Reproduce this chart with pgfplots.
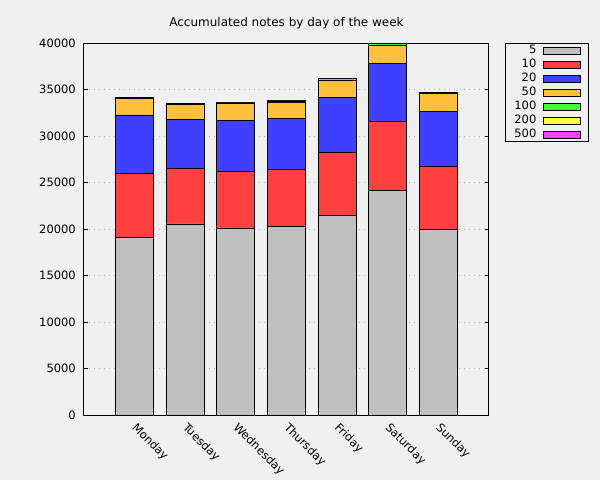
\documentclass[border=0pt]{standalone}
\usepackage{pgfplots}
\pgfplotsset{compat=1.18}
\usepackage{fontspec}
\setmainfont{DejaVu Sans}
\definecolor{bg}{HTML}{F0F0F0}
\definecolor{c5}{HTML}{C0C0C0}
\definecolor{c10}{HTML}{FF4040}
\definecolor{c20}{HTML}{4040FF}
\definecolor{c50}{HTML}{FFC040}
\definecolor{c100}{HTML}{40FF40}
\definecolor{c200}{HTML}{FFFF40}
\definecolor{c500}{HTML}{FF40FF}
\definecolor{gridc}{HTML}{B8B8B8}
\begin{document}
\begin{tikzpicture}[x=1pt,y=1pt]
\fill[bg] (0,0) rectangle (600,480);
\begin{axis}[
  at={(84pt,65pt)}, anchor=south west,
  scale only axis, width=405pt, height=372pt,
  ybar stacked, bar width=38pt,
  xmin=0, xmax=8, ymin=0, ymax=40000,
  xtick={1,2,3,4,5,6,7},
  xticklabels={Monday,Tuesday,Wednesday,Thursday,Friday,Saturday,Sunday},
  xticklabel style={rotate=-45, anchor=north west, inner sep=1pt, xshift=6pt, yshift=-1.5pt, font=\fontsize{11.5pt}{13pt}\selectfont},
  xtick style={draw=none},
  ytick={0,5000,...,40000},
  scaled y ticks=false,
  /pgf/number format/set thousands separator={},
  /pgf/number format/assume math mode=true,
  yticklabel style={font=\fontsize{11.5pt}{13pt}\selectfont, inner sep=2pt, xshift=-6pt},
  ytick style={black, line width=0.8pt},
  major tick length=4pt,
  tick align=inside,
  ymajorgrids, grid style={gridc, line width=0.9pt, dash pattern=on 1pt off 4pt},
  axis line style={black, line width=1pt},
  axis background/.style={fill=bg},
  title={Accumulated notes by day of the week},
  title style={at={(0.5,1)}, anchor=base, yshift=11pt, font=\fontsize{12pt}{14pt}\selectfont},
  every axis plot/.append style={draw=black, line width=0.8pt},
  legend style={at={(1,1)}, anchor=north west, xshift=16pt, draw=black, line width=0.8pt, fill=bg,
    font=\fontsize{11.5pt}{13pt}\selectfont, row sep=0pt, column sep=5pt, inner xsep=7pt, inner ysep=0pt,
    nodes={text height=8.5pt, text depth=1.5pt, inner ysep=2pt, inner xsep=2pt}},
  legend cell align=right,
  legend plot pos=right,
  legend image code/.code={\draw[#1, draw=black, line width=0.8pt] (0pt,-3.5pt) rectangle (37pt,3.5pt);},
]
\addplot[fill=c5] coordinates {(1,19110) (2,20540) (3,20110) (4,20320) (5,21470) (6,24160) (7,19970)};
\addplot[fill=c10] coordinates {(1,6900) (2,5990) (3,6050) (4,6100) (5,6780) (6,7420) (7,6770)};
\addplot[fill=c20] coordinates {(1,6250) (2,5270) (3,5530) (4,5480) (5,5910) (6,6230) (7,5910)};
\addplot[fill=c50] coordinates {(1,1750) (2,1640) (3,1860) (4,1720) (5,1860) (6,1940) (7,1970)};
\addplot[fill=c100] coordinates {(1,120) (2,40) (3,40) (4,150) (5,120) (6,200) (7,80)};
\addplot[fill=c200] coordinates {(1,20) (2,10) (3,10) (4,20) (5,20) (6,20) (7,20)};
\addplot[fill=c500] coordinates {(1,10) (2,0) (3,0) (4,10) (5,10) (6,10) (7,10)};
\legend{5,10,20,50,100,200,500}
\end{axis}
\end{tikzpicture}
\end{document}
